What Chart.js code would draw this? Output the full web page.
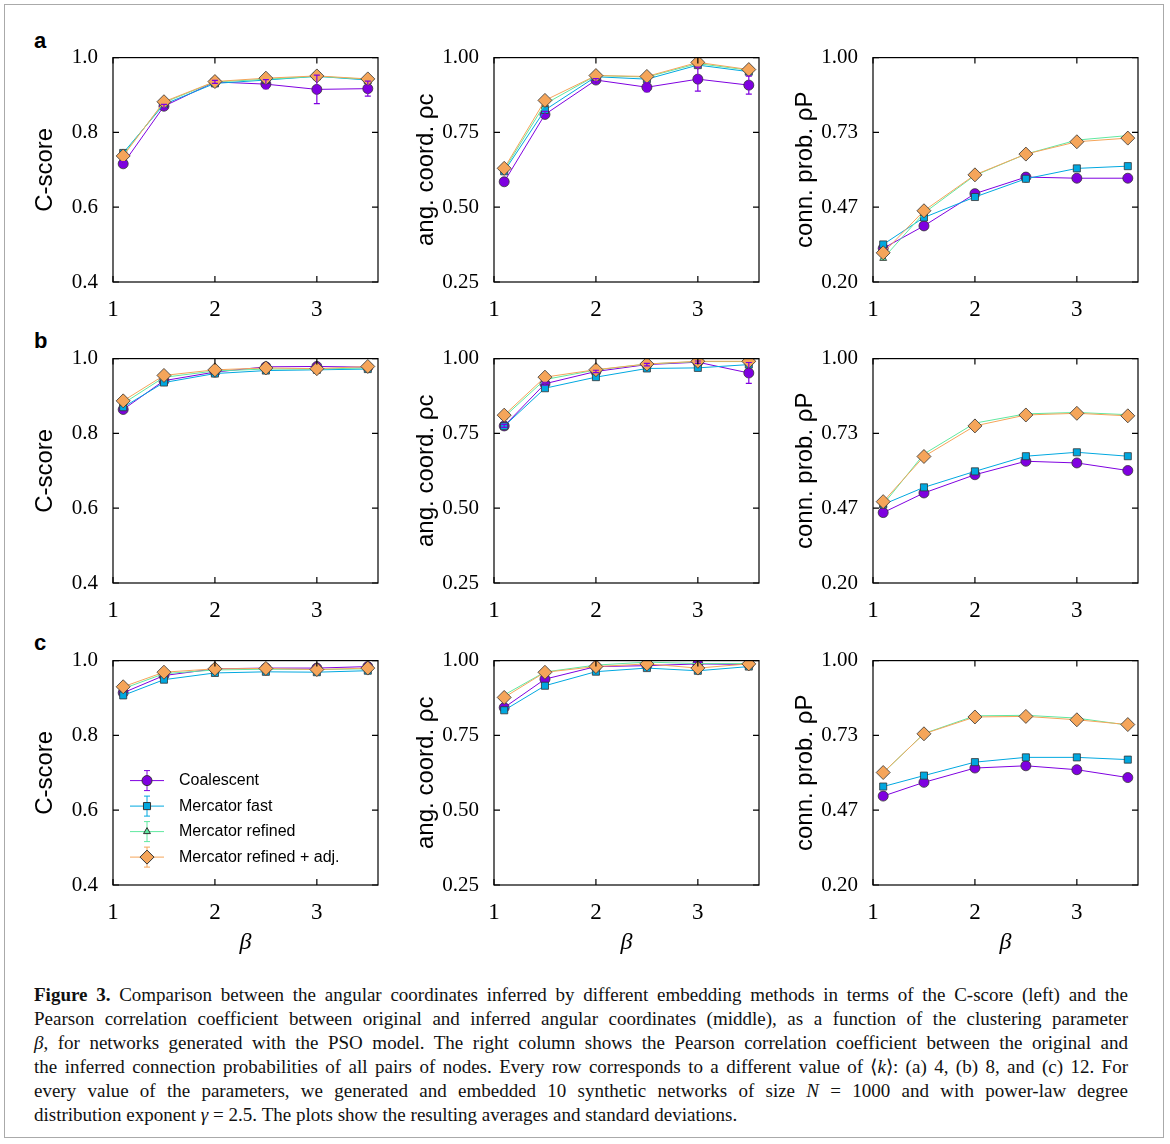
<!DOCTYPE html>
<html><head><meta charset="utf-8">
<script src="https://cdn.jsdelivr.net/npm/chart.js@4/dist/chart.umd.min.js"></script>
<style>
body{margin:0;background:#fff;width:1170px;height:1144px;position:relative;overflow:hidden}
#frame{position:absolute;left:4px;top:4px;width:1160px;height:1134px;border:1px solid #aaa;box-sizing:border-box}
canvas{position:absolute}
.lab{position:absolute;font:bold 22px "Liberation Sans",sans-serif}
#cap{position:absolute;left:34px;top:983px;width:1094px;font:19px/24px "Liberation Serif",serif;color:#111}
#cap div{text-align:justify;text-align-last:justify;white-space:nowrap}
#cap div:last-child{text-align-last:left}
</style></head><body>
<div id="frame"></div>
<div class="lab" style="left:34px;top:28px">a</div>
<div class="lab" style="left:34px;top:328px">b</div>
<div class="lab" style="left:34px;top:630px">c</div>
<div id="cap">
<div><b>Figure 3.</b> Comparison between the angular coordinates inferred by different embedding methods in terms of the C-score (left) and the</div>
<div>Pearson correlation coefficient between original and inferred angular coordinates (middle), as a function of the clustering parameter</div>
<div><i>β</i>, for networks generated with the PSO model. The right column shows the Pearson correlation coefficient between the original and</div>
<div>the inferred connection probabilities of all pairs of nodes. Every row corresponds to a different value of ⟨<i>k</i>⟩: (a) 4, (b) 8, and (c) 12. For</div>
<div>every value of the parameters, we generated and embedded 10 synthetic networks of size <i>N</i> = 1000 and with power-law degree</div>
<div>distribution exponent <i>γ</i> = 2.5. The plots show the resulting averages and standard deviations.</div>
</div>
<script>
const betas = [1.1, 1.5, 2, 2.5, 3, 3.5];
const seriesNames = ["Coalescent", "Mercator fast", "Mercator refined", "Mercator refined + adj."];
const colors = ["#7f00e0", "#00a8e0", "#60e8a0", "#f5a55a"];

// row a
const aCoalC = [0.716, 0.870, 0.935, 0.929, 0.915, 0.917];
const aFastC = [0.745, 0.875, 0.931, 0.940, 0.950, 0.940];
const aRefC  = [0.740, 0.880, 0.935, 0.942, 0.950, 0.942];
const aAdjC  = [0.737, 0.882, 0.936, 0.945, 0.951, 0.943];
const aCoalCErr = [0.006, 0.005, 0.004, 0.012, 0.038, 0.02];
const aCoalA = [0.585, 0.810, 0.925, 0.901, 0.928, 0.908];
const aFastA = [0.620, 0.825, 0.936, 0.928, 0.975, 0.953];
const aRefA  = [0.625, 0.845, 0.940, 0.935, 0.980, 0.958];
const aAdjA  = [0.630, 0.857, 0.940, 0.937, 0.984, 0.960];
const aCoalAErr = [0.01, 0.01, 0.005, 0.015, 0.04, 0.03];
const aCoalP = [0.320, 0.400, 0.515, 0.574, 0.570, 0.570];
const aFastP = [0.334, 0.430, 0.503, 0.568, 0.605, 0.613];
const aRefP  = [0.284, 0.446, 0.580, 0.656, 0.706, 0.722];
const aAdjP  = [0.304, 0.454, 0.582, 0.656, 0.700, 0.713];
// row b
const bCoalC = [0.864, 0.941, 0.964, 0.978, 0.979, 0.977];
const bFastC = [0.870, 0.936, 0.960, 0.968, 0.970, 0.972];
const bRefC  = [0.880, 0.950, 0.967, 0.972, 0.972, 0.975];
const bAdjC  = [0.887, 0.955, 0.970, 0.975, 0.973, 0.979];
const bCoalA = [0.775, 0.916, 0.957, 0.980, 0.988, 0.952];
const bFastA = [0.774, 0.901, 0.938, 0.967, 0.969, 0.980];
const bRefA  = [0.805, 0.930, 0.962, 0.982, 0.990, 0.990];
const bAdjA  = [0.811, 0.938, 0.963, 0.982, 0.991, 0.991];
const bCoalAErr = [0.005, 0.005, 0.004, 0.004, 0.004, 0.035];
const bCoalP = [0.451, 0.521, 0.586, 0.634, 0.628, 0.601];
const bFastP = [0.480, 0.541, 0.598, 0.652, 0.666, 0.652];
const bRefP  = [0.480, 0.660, 0.770, 0.803, 0.808, 0.800];
const bAdjP  = [0.490, 0.651, 0.760, 0.799, 0.805, 0.796];
// row c
const cCoalC = [0.914, 0.960, 0.978, 0.980, 0.980, 0.984];
const cFastC = [0.907, 0.949, 0.967, 0.970, 0.969, 0.973];
const cRefC  = [0.925, 0.965, 0.975, 0.977, 0.976, 0.978];
const cAdjC  = [0.930, 0.969, 0.978, 0.979, 0.976, 0.980];
const cCoalA = [0.843, 0.938, 0.980, 0.983, 0.989, 0.987];
const cFastA = [0.834, 0.916, 0.963, 0.975, 0.966, 0.980];
const cRefA  = [0.885, 0.962, 0.985, 0.995, 0.990, 0.990];
const cAdjA  = [0.877, 0.961, 0.980, 0.989, 0.975, 0.989];
const cCoalP = [0.517, 0.566, 0.617, 0.625, 0.611, 0.583];
const cFastP = [0.551, 0.590, 0.638, 0.655, 0.655, 0.647];
const cRefP  = [0.600, 0.740, 0.803, 0.805, 0.795, 0.770];
const cAdjP  = [0.601, 0.739, 0.799, 0.801, 0.789, 0.772];

const xTicks = [1, 2, 3];
const cTicks = [0.4, 0.6, 0.8, 1.0];
const aTicks = [0.25, 0.5, 0.75, 1.0];
const pTicks = [0.2, 0.4667, 0.7333, 1.0];
const cLabels = ["0.4", "0.6", "0.8", "1.0"];
const aLabels = ["0.25", "0.50", "0.75", "1.00"];
const pLabels = ["0.20", "0.47", "0.73", "1.00"];

const pointStyles = ["circle", "rect", "triangle", "rectRot"];
const pointSizes = [5, 5, 4, 7];

const boxPlugin = {
  id: "box",
  afterDatasetsDraw(chart) {
    const ctx = chart.ctx;
    ctx.save();
    // error bars
    chart.data.datasets.forEach((ds, i) => {
      if (!ds.err) return;
      const meta = chart.getDatasetMeta(i), ys = chart.scales.y;
      ctx.strokeStyle = ds.borderColor; ctx.lineWidth = 1.2;
      meta.data.forEach((pt, j) => {
        const v = ds.data[j].y, e = ds.err[j];
        const y1 = ys.getPixelForValue(v - e), y2 = ys.getPixelForValue(v + e);
        ctx.beginPath();
        ctx.moveTo(pt.x, y1); ctx.lineTo(pt.x, y2);
        ctx.moveTo(pt.x - 3, y1); ctx.lineTo(pt.x + 3, y1);
        ctx.moveTo(pt.x - 3, y2); ctx.lineTo(pt.x + 3, y2);
        ctx.stroke();
      });
    });
    ctx.restore();
  },
  afterDraw(chart) {
    const ctx = chart.ctx, a = chart.chartArea;
    ctx.save();
    ctx.strokeStyle = "#000"; ctx.lineWidth = 1.2;
    ctx.strokeRect(a.left, a.top, a.right - a.left, a.bottom - a.top);
    ctx.beginPath();
    chart.scales.x.ticks.forEach(t => {
      const x = chart.scales.x.getPixelForValue(t.value);
      ctx.moveTo(x, a.bottom); ctx.lineTo(x, a.bottom - 6);
      ctx.moveTo(x, a.top); ctx.lineTo(x, a.top + 6);
    });
    chart.scales.y.ticks.forEach(t => {
      const y = chart.scales.y.getPixelForValue(t.value);
      ctx.moveTo(a.left, y); ctx.lineTo(a.left + 6, y);
      ctx.moveTo(a.right, y); ctx.lineTo(a.right - 6, y);
    });
    ctx.stroke();
    if (chart.options.plugins.inlegend) {
      ctx.font = '16px "Liberation Sans", sans-serif';
      ctx.textBaseline = "middle";
      const ds = chart.data.datasets;
      for (let i = 0; i < ds.length; i++) {
        const x = a.left + 34, y = a.top + 120 + i * 25.5;
        ctx.strokeStyle = ds[i].borderColor; ctx.lineWidth = 1;
        ctx.beginPath(); ctx.moveTo(x - 17, y); ctx.lineTo(x + 17, y);
        ctx.moveTo(x, y - 10); ctx.lineTo(x, y + 10);
        ctx.moveTo(x - 3, y - 10); ctx.lineTo(x + 3, y - 10);
        ctx.moveTo(x - 3, y + 10); ctx.lineTo(x + 3, y + 10);
        ctx.stroke();
        ctx.fillStyle = ds[i].backgroundColor; ctx.strokeStyle = "#333";
        Chart.helpers.drawPoint(ctx, { pointStyle: pointStyles[i], radius: pointSizes[i], borderWidth: 0.8 }, x, y);
        ctx.fillStyle = "#000";
        ctx.fillText(seriesNames[i], x + 32, y);
      }
    }
    ctx.restore();
  }
};

function makeSets(vals, errs) {
  return vals.map((v, i) => ({
    label: seriesNames[i],
    data: betas.map((b, j) => ({ x: b, y: v[j] })),
    err: errs ? errs[i] : null,
    borderColor: colors[i],
    backgroundColor: colors[i],
    pointBorderColor: "#333",
    pointBorderWidth: 0.8,
    pointStyle: pointStyles[i],
    pointRadius: pointSizes[i],
    borderWidth: 1,
    showLine: true,
    order: 4 - i
  }));
}

const PW = 265, PH = 222, YW = 82, PADL = 10, TOP = 22;
function panel(left, top, vals, errs, ticks, labels, title, showBeta, legend) {
  const c = document.createElement("canvas");
  const XH = showBeta ? 72 : 42;
  c.style.left = (left - YW - PADL) + "px"; c.style.top = (top - TOP) + "px";
  c.style.width = (PADL + YW + PW + 10) + "px"; c.style.height = (TOP + PH + XH) + "px";
  c.width = PADL + YW + PW + 10; c.height = TOP + PH + XH;
  document.body.appendChild(c);
  new Chart(c, {
    type: "scatter",
    data: { datasets: makeSets(vals, errs) },
    plugins: [boxPlugin],
    options: {
      responsive: false, animation: false,
      layout: { padding: { top: 11, right: 10, left: PADL, bottom: 0 } },
      plugins: { legend: { display: false }, tooltip: { enabled: false }, inlegend: legend },
      scales: {
        x: {
          type: "linear", min: 1, max: 3.6,
          afterBuildTicks: s => { s.ticks = xTicks.map(v => ({ value: v })); },
          afterFit: s => { s.height = XH; },
          grid: { display: false }, border: { display: false },
          ticks: { color: "#000", font: { family: "Liberation Serif", size: 23 }, padding: 6 },
          title: { display: showBeta, text: "β", color: "#000", font: { family: "Liberation Serif", size: 24, style: "italic" }, padding: 0 }
        },
        y: {
          min: ticks[0], max: 1,
          afterBuildTicks: s => { s.ticks = ticks.map(v => ({ value: v })); },
          afterFit: s => { s.width = YW; },
          grid: { display: false }, border: { display: false },
          ticks: { color: "#000", font: { family: "Liberation Serif", size: 21 }, padding: 7,
                   callback: (v, i) => labels[i] },
          title: { display: true, text: title, color: "#000", font: { family: "Liberation Sans", size: 24 }, padding: { top: 0, bottom: 0 } }
        }
      }
    }
  });
}

const colX = [113, 494, 873];
const rowY = [60, 361, 663];
const titles = ["C-score", "ang. coord. ρc", "conn. prob. ρP"];
panel(colX[0], rowY[0], [aCoalC, aFastC, aRefC, aAdjC], [aCoalCErr, null, null, null], cTicks, cLabels, titles[0], false, false);
panel(colX[1], rowY[0], [aCoalA, aFastA, aRefA, aAdjA], [aCoalAErr, null, null, null], aTicks, aLabels, titles[1], false, false);
panel(colX[2], rowY[0], [aCoalP, aFastP, aRefP, aAdjP], null, pTicks, pLabels, titles[2], false, false);
panel(colX[0], rowY[1], [bCoalC, bFastC, bRefC, bAdjC], null, cTicks, cLabels, titles[0], false, false);
panel(colX[1], rowY[1], [bCoalA, bFastA, bRefA, bAdjA], [bCoalAErr, null, null, null], aTicks, aLabels, titles[1], false, false);
panel(colX[2], rowY[1], [bCoalP, bFastP, bRefP, bAdjP], null, pTicks, pLabels, titles[2], false, false);
panel(colX[0], rowY[2], [cCoalC, cFastC, cRefC, cAdjC], null, cTicks, cLabels, titles[0], true, true);
panel(colX[1], rowY[2], [cCoalA, cFastA, cRefA, cAdjA], null, aTicks, aLabels, titles[1], true, false);
panel(colX[2], rowY[2], [cCoalP, cFastP, cRefP, cAdjP], null, pTicks, pLabels, titles[2], true, false);
</script>
</body></html>
